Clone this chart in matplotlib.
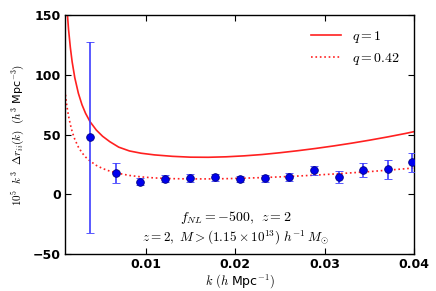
import matplotlib
matplotlib.use("Agg")
import matplotlib.pyplot as plt

plt.rcParams['mathtext.fontset'] = 'cm'

# data points (k, value, error)
k_pts = [0.0038, 0.0067, 0.0094, 0.0122, 0.0150, 0.0177, 0.0205, 0.0233,
         0.0260, 0.0288, 0.0316, 0.0343, 0.0371, 0.0398]
y_pts = [47.8, 17.8, 10.5, 13.0, 13.6, 14.4, 13.0, 13.3,
         14.4, 20.0, 14.7, 20.5, 20.8, 27.0]
e_pts = [80.0, 8.0, 3.0, 3.0, 3.0, 3.0, 2.5, 3.0,
         3.5, 4.0, 5.0, 6.0, 8.0, 8.0]

# model curves sampled on a common k grid
k_model = [0.0010, 0.0012, 0.0014, 0.0016, 0.0018, 0.0021, 0.0025, 0.0029,
           0.0033, 0.0038, 0.0045, 0.0052, 0.0060, 0.0070, 0.0082, 0.0095,
           0.0110, 0.0130, 0.0150, 0.0170, 0.0190, 0.0210, 0.0230, 0.0250,
           0.0270, 0.0290, 0.0310, 0.0330, 0.0350, 0.0370, 0.0390, 0.0400]
# q = 1 (solid)
v_q1 = [185.0, 158.0, 138.0, 123.0, 111.0, 97.5, 84.5, 75.0,
        67.8, 60.8, 53.8, 48.6, 44.1, 39.5, 36.3, 34.4,
        33.0, 31.8, 31.1, 31.0, 31.4, 32.2, 33.3, 34.8,
        36.5, 38.4, 40.5, 42.8, 45.3, 48.0, 50.9, 52.5]
# q = 0.42 (dotted)
v_q042 = [87.0, 74.5, 65.5, 58.5, 52.5, 46.0, 39.5, 34.8,
          31.2, 27.9, 24.2, 21.6, 19.4, 17.5, 15.8, 14.6,
          13.7, 13.1, 12.9, 12.9, 13.1, 13.5, 14.0, 14.6,
          15.3, 16.1, 17.0, 18.0, 19.0, 20.2, 21.4, 22.1]

x_ticks = [0.01, 0.02, 0.03, 0.04]
x_labels = ["0.01", "0.02", "0.03", "0.04"]
y_ticks = [-50, 0, 50, 100, 150]
y_labels = ["\u221250", "0", "50", "100", "150"]

fig = plt.figure(figsize=(4.36, 2.91), dpi=100)
ax = fig.add_axes([0.149, 0.127, 0.801, 0.821])

ax.plot(k_model, v_q1, '-', color='#ff2020', lw=1.2, label=r'$q=1$')
ax.plot(k_model, v_q042, ':', color='#ff2020', lw=1.2, label=r'$q=0.42$')
ax.errorbar(k_pts, y_pts, yerr=e_pts, fmt='o', color='#0000ee', ms=5.5,
            mec='#000080', mew=0.6, ecolor='#3d3dff', elinewidth=1.2,
            capsize=3, capthick=1.2, zorder=3)

ax.set_xlim(0.001, 0.04)
ax.set_ylim(-50, 150)
ax.set_xticks(x_ticks)
ax.set_xticklabels(x_labels, fontweight='bold', fontsize=9)
ax.set_yticks(y_ticks)
ax.set_yticklabels(y_labels, fontweight='bold', fontsize=9)
ax.tick_params(direction='in', top=True, right=True, length=4, width=0.8, pad=3)
for s in ax.spines.values():
    s.set_linewidth(1.0)

ax.set_xlabel(r'$k\ (h$ Mpc$^{-1})$', fontsize=9, labelpad=1)
ax.set_ylabel(r'$10^5\ \ k^3\ \ \Delta r_{ii}(k)\ \ (h^3$ Mpc$^{-3})$', fontsize=8, labelpad=4)

ax.text(0.49, 0.155, r'$f_{NL}=-500,\;\,z=2$', transform=ax.transAxes,
        ha='center', va='center', fontsize=10)
ax.text(0.487, 0.067, r'$z=2,\ M>(1.15\times10^{13})\ h^{-1}\,M_{\odot}$',
        transform=ax.transAxes, ha='center', va='center', fontsize=9.5)

ax.legend(loc='upper right', frameon=False, fontsize=10, handlelength=2.2,
          borderaxespad=0.6, labelspacing=0.4)

fig.savefig('out.png', dpi=100)
